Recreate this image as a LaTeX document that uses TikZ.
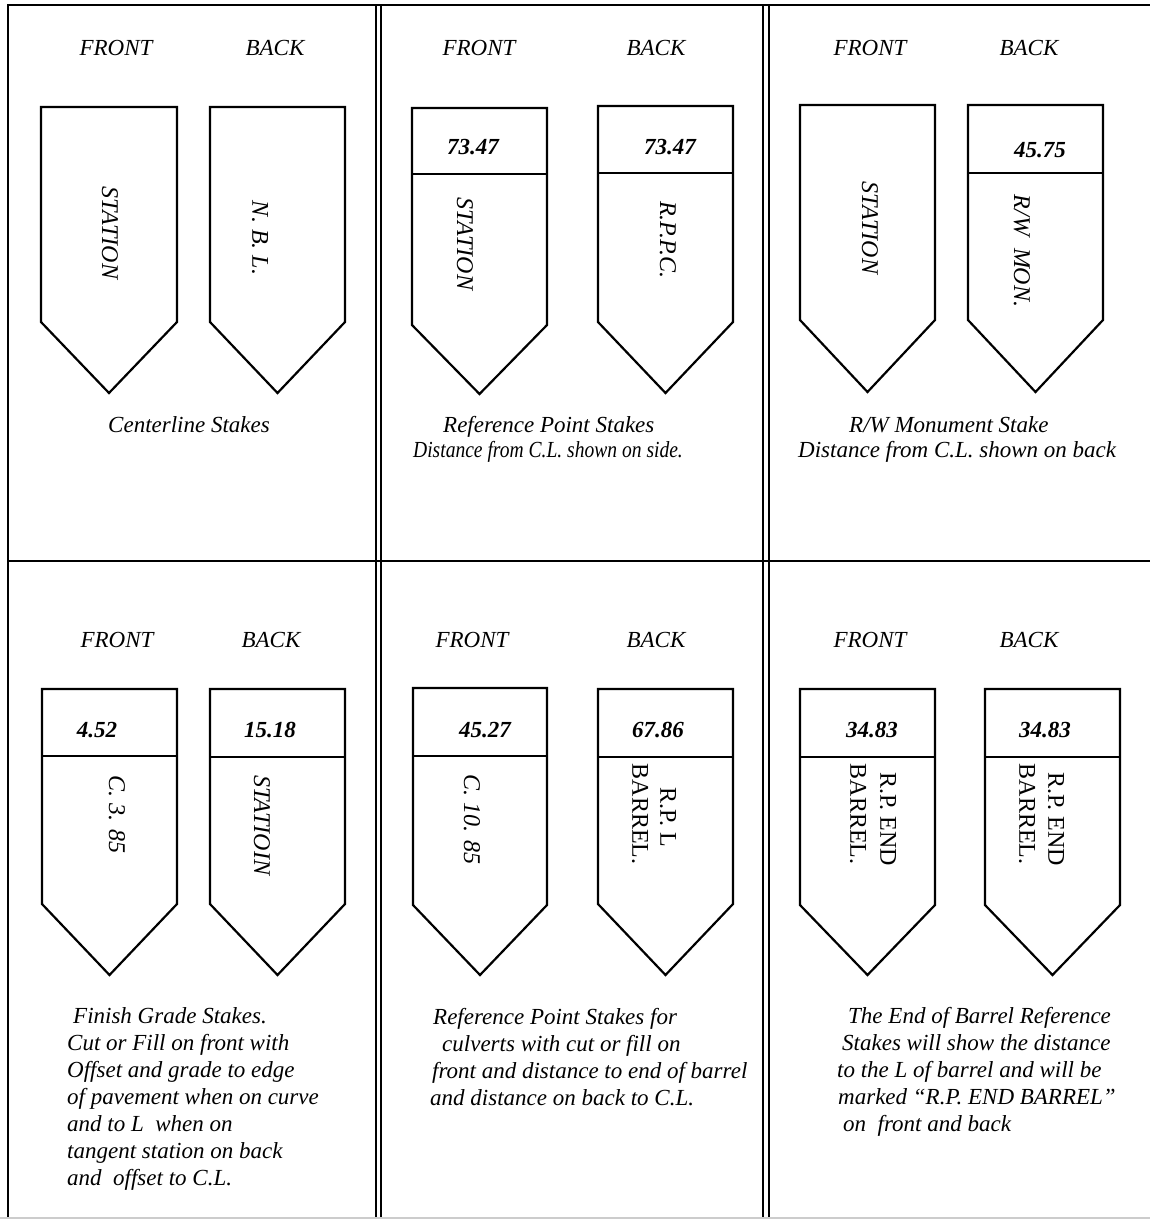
\documentclass[tikz,border=0pt]{standalone}
\usepackage{fontspec}
\setmainfont{Liberation Serif}
\tikzset{
  stakeline/.style={line width=2.2pt, line join=miter},
  frameline/.style={line width=2pt},
  lbl/.style={font=\fontsize{23}{27}\selectfont\itshape, inner sep=0pt},
  num/.style={font=\fontsize{23}{27}\selectfont\bfseries\itshape, inner sep=0pt},
  vtxt/.style={font=\fontsize{24}{28}\selectfont\itshape, inner sep=0pt, rotate=-90},
  vtxtup/.style={font=\fontsize{24}{28}\selectfont, inner sep=0pt, rotate=-90},
  capt/.style={font=\fontsize{23}{27}\selectfont\itshape, inner sep=0pt, anchor=base west},
}
\newcommand\stakeshape[5]{\draw[stakeline] (#1,#3) -- (#2,#3) -- (#2,#4) -- ({(#1+#2)/2},#5) -- (#1,#4) -- cycle;}
\newcommand\stakediv[3]{\draw[stakeline] (#1,#3) -- (#2,#3);}
\begin{document}
\begin{tikzpicture}[x=1pt,y=-1pt]
\useasboundingbox (0,0) rectangle (1150,1219);
\fill[white] (0,0) rectangle (1150,1219);
% frame
\draw[frameline] (8,5) -- (1150,5);
\draw[frameline] (8,4) -- (8,1218);
\draw[frameline] (376,5) -- (376,1218);
\draw[frameline] (381,5) -- (381,1218);
\draw[frameline] (763,5) -- (763,1218);
\draw[frameline] (769,5) -- (769,1218);
\draw[frameline] (8,561) -- (1150,561);
\draw[line width=1.5pt, black!20] (0,1218) -- (1150,1218);
% FRONT / BACK labels
\node[lbl] (f1) at (116,48) {FRONT};
\node[lbl] (b1) at (275,48) {BACK};
\node[lbl] (f2) at (479,48) {FRONT};
\node[lbl] (b2) at (656,48) {BACK};
\node[lbl] (f3) at (870,48) {FRONT};
\node[lbl] (b3) at (1029,48) {BACK};
\node[lbl] (f4) at (117,640) {FRONT};
\node[lbl] (b4) at (271,640) {BACK};
\node[lbl] (f5) at (472,640) {FRONT};
\node[lbl] (b5) at (656,640) {BACK};
\node[lbl] (f6) at (870,640) {FRONT};
\node[lbl] (b6) at (1029,640) {BACK};
% stakes top row
\stakeshape{41}{177}{107}{322}{393}
\stakeshape{210}{345}{107}{322}{393}
\stakeshape{412}{547}{108}{325}{394}
\stakediv{412}{547}{174}
\stakeshape{598}{733}{106}{322}{393}
\stakediv{598}{733}{173}
\stakeshape{800}{935}{105}{320}{392}
\stakeshape{968}{1103}{105}{320}{392}
\stakediv{968}{1103}{173}
% stakes bottom row
\stakeshape{42}{177}{689}{904}{975}
\stakediv{42}{177}{756}
\stakeshape{210}{345}{689}{904}{975}
\stakediv{210}{345}{757}
\stakeshape{413}{547}{688}{905}{975}
\stakediv{413}{547}{756}
\stakeshape{598}{733}{689}{904}{975}
\stakediv{598}{733}{757}
\stakeshape{800}{935}{689}{905}{975}
\stakediv{800}{935}{757}
\stakeshape{985}{1120}{689}{905}{975}
\stakediv{985}{1120}{757}
% numbers
\node[num] (n2f) at (473,147) {73.47};
\node[num] (n2b) at (670,147) {73.47};
\node[num] (n3b) at (1040,150) {45.75};
\node[num] (n4f) at (97,730) {4.52};
\node[num] (n4b) at (270,730) {15.18};
\node[num] (n5f) at (485,730) {45.27};
\node[num] (n5b) at (658,730) {67.86};
\node[num] (n6f) at (872,730) {34.83};
\node[num] (n6b) at (1045,730) {34.83};
% vertical texts
\node[vtxt] (v1f) at (110,233) {STATION};
\node[vtxt] (v1b) at (260,238) {N. B. L.};
\node[vtxt] (v2f) at (465,244) {STATION};
\node[vtxt] (v2b) at (668,240) {R.P.P.C.};
\node[vtxt] (v3f) at (870,228) {STATION};
\node[vtxt] (v3b) at (1022,251) {R/W\ \ MON.};
\node[vtxt] (v4f) at (117,814) {C. 3. 85};
\node[vtxt] (v4b) at (262,825) {STATIOIN};
\node[vtxt] (v5f) at (472,819) {C. 10. 85};
\node[vtxtup] (v5b1) at (668,817) {R.P. L};
\node[vtxtup] (v5b2) at (640,814) {BARREL.};
\node[vtxtup] (v6f1) at (888,819) {R.P. END};
\node[vtxtup] (v6f2) at (858,814) {BARREL.};
\node[vtxtup] (v6b1) at (1056,819) {R.P. END};
\node[vtxtup] (v6b2) at (1027,814) {BARREL.};
% top captions
\node[capt] (c1a) at (108,432) {Centerline Stakes};
\node[capt] (c2a) at (443,432) {Reference Point Stakes};
\node[capt, xscale=0.85] (c2b) at (413,457) {Distance from C.L. shown on side.};
\node[capt] (c3a) at (849,432) {R/W Monument Stake};
\node[capt] (c3b) at (798,457) {Distance from C.L. shown on back};
% bottom captions
\node[capt] (c4a) at (73,1023) {Finish Grade Stakes.};
\node[capt] (c4b) at (67,1050) {Cut or Fill on front with};
\node[capt] (c4c) at (67,1077) {Offset and grade to edge};
\node[capt] (c4d) at (67,1104) {of pavement when on curve};
\node[capt] (c4e) at (67,1131) {and to L\ \ when on};
\node[capt] (c4f) at (67,1158) {tangent station on back};
\node[capt] (c4g) at (67,1185) {and\ \ offset to C.L.};
\node[capt] (c5a) at (433,1024) {Reference Point Stakes for};
\node[capt] (c5b) at (442,1051) {culverts with cut or fill on};
\node[capt] (c5c) at (432,1078) {front and distance to end of barrel};
\node[capt] (c5d) at (430,1105) {and distance on back to C.L.};
\node[capt] (c6a) at (848,1023) {The End of Barrel Reference};
\node[capt] (c6b) at (842,1050) {Stakes will show the distance};
\node[capt] (c6c) at (837,1077) {to the L of barrel and will be};
\node[capt] (c6d) at (838,1104) {marked “R.P. END BARREL”};
\node[capt] (c6e) at (843,1131) {on\ \ front and back};
\end{tikzpicture}
\end{document}
